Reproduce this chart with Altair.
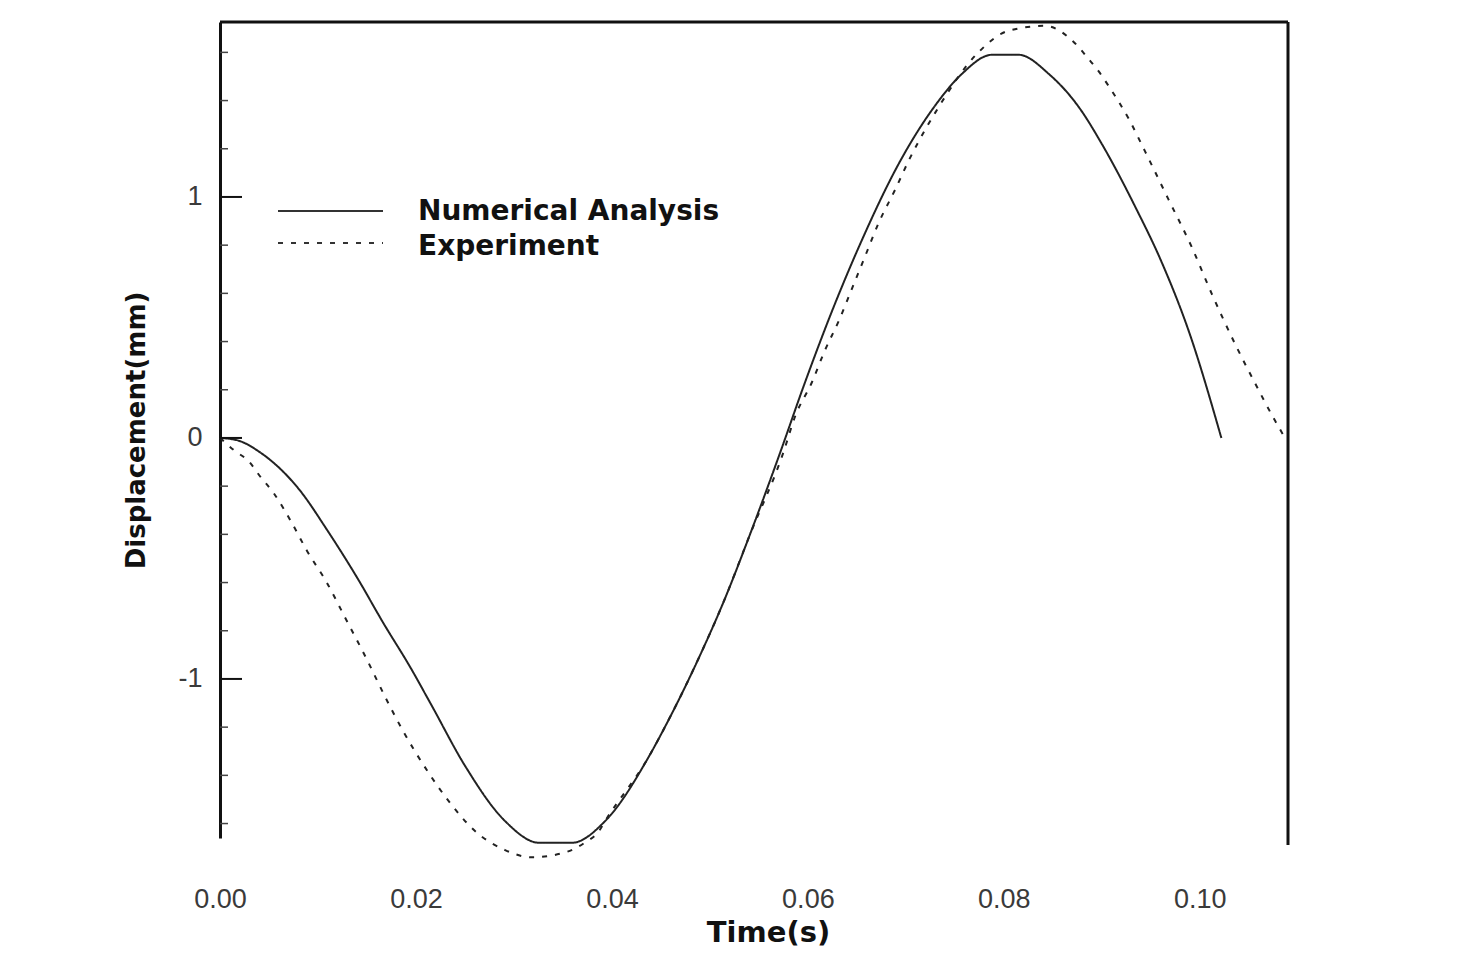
import altair as alt
import pandas as pd

# ---- data ----
num_t = [0.0000, 0.0018, 0.0041, 0.0082, 0.0109, 0.0140, 0.0167, 0.0194, 0.0216, 0.0250,
         0.0291, 0.0326, 0.0359, 0.0393, 0.0438, 0.0454, 0.0489, 0.0515, 0.0540, 0.0570,
         0.0597, 0.0624, 0.0655, 0.0693, 0.0730, 0.0757, 0.0788, 0.0815, 0.0846, 0.0877,
         0.0900, 0.0934, 0.0961, 0.0989, 0.1022]
num_v = [0.00, -0.01, -0.06, -0.22, -0.38, -0.58, -0.77, -0.95, -1.11, -1.36,
         -1.59, -1.68, -1.68, -1.59, -1.32, -1.20, -0.91, -0.67, -0.41, -0.08,
         0.23, 0.52, 0.82, 1.14, 1.38, 1.51, 1.59, 1.59, 1.51, 1.37,
         1.22, 0.96, 0.73, 0.44, 0.00]

exp_t = [0.0000, 0.0014, 0.0030, 0.0041, 0.0055, 0.0073, 0.0089, 0.0109, 0.0127, 0.0150,
         0.0168, 0.0186, 0.0213, 0.0234, 0.0260, 0.0291, 0.0318, 0.0352, 0.0372, 0.0387,
         0.0393, 0.0438, 0.0454, 0.0489, 0.0515, 0.0540, 0.0575, 0.0587, 0.0604, 0.0617,
         0.0632, 0.0645, 0.0658, 0.0672, 0.0689, 0.0704, 0.0713, 0.0730, 0.0774, 0.0805,
         0.0842, 0.0872, 0.0887, 0.0897, 0.0907, 0.0928, 0.0944, 0.0968, 0.0992, 0.1012,
         0.1036, 0.1056, 0.1077, 0.1087]
exp_v = [0.00, -0.05, -0.10, -0.16, -0.23, -0.35, -0.47, -0.60, -0.74, -0.92,
         -1.07, -1.21, -1.39, -1.51, -1.63, -1.71, -1.74, -1.72, -1.68, -1.63,
         -1.59, -1.32, -1.20, -0.91, -0.67, -0.41, -0.06, 0.09, 0.23, 0.36,
         0.49, 0.62, 0.75, 0.89, 1.03, 1.16, 1.23, 1.35, 1.60, 1.69,
         1.71, 1.64, 1.57, 1.52, 1.46, 1.32, 1.19, 0.99, 0.79, 0.60,
         0.39, 0.23, 0.07, 0.00]

series_names = ["Numerical Analysis", "Experiment"]
x_ticks = [0.00, 0.02, 0.04, 0.06, 0.08, 0.10]
y_major = [-1, 0, 1]
y_minor = [-1.6, -1.4, -1.2, -0.8, -0.6, -0.4, -0.2, 0.2, 0.4, 0.6, 0.8, 1.2, 1.4, 1.6]

W, H = 1068, 816
FONT = "Liberation Sans"
BOLD = "DejaVu Sans"

df = pd.concat([
    pd.DataFrame({"t": num_t, "v": num_v, "s": series_names[0]}),
    pd.DataFrame({"t": exp_t, "v": exp_v, "s": series_names[1]}),
])

xs = alt.Scale(domain=[0, 0.109], nice=False, zero=False)
ys = alt.Scale(domain=[-1.66, 1.726], nice=False, zero=False)
dash_scale = alt.Scale(domain=series_names, range=[[1, 0], [5, 8]])

lines = alt.Chart(df).mark_line(color="#222222", strokeWidth=2, clip=False,
                                interpolate="monotone").encode(
    x=alt.X("t:Q", scale=xs,
            axis=alt.Axis(values=x_ticks, format=".2f", domain=False, ticks=False, grid=False,
                          labelFlush=False, labelOverlap=False,
                          labelPadding=48, labelFontSize=27, labelFont=FONT, labelColor="#3a3a3a",
                          title="Time(s)", titleFont=BOLD, titleFontSize=29, titleFontWeight="bold",
                          titleColor="#111111", titlePadding=6, titleX=548)),
    y=alt.Y("v:Q", scale=ys,
            axis=alt.Axis(values=y_major, format="d", domain=True, domainColor="#111111",
                          domainWidth=3, ticks=False, grid=False,
                          labelExpr="replace(datum.label, '\u2212', '-')",
                          labelPadding=18, labelFontSize=27, labelFont=FONT, labelColor="#3a3a3a",
                          title="Displacement(mm)", titleFont=BOLD, titleFontSize=26,
                          titleFontWeight="bold", titleColor="#111111", titlePadding=28)),
    strokeDash=alt.StrokeDash("s:N", scale=dash_scale, legend=None),
    detail="s:N",
)

major = alt.Chart(pd.DataFrame({"v": y_major})).mark_rule(color="#111111", strokeWidth=2).encode(
    y=alt.Y("v:Q", scale=ys), x=alt.value(0), x2=alt.value(22))
minor = alt.Chart(pd.DataFrame({"v": y_minor})).mark_rule(color="#444444", strokeWidth=1.5).encode(
    y=alt.Y("v:Q", scale=ys), x=alt.value(0), x2=alt.value(8))

frame_top = alt.Chart(pd.DataFrame({"a": [0]})).mark_rule(color="#111111", strokeWidth=3).encode(
    x=alt.value(0), x2=alt.value(W), y=alt.value(0))
frame_right = alt.Chart(pd.DataFrame({"a": [0]})).mark_rule(color="#111111", strokeWidth=3).encode(
    x=alt.value(W), y=alt.value(0), y2=alt.value(H + 7))

leg_layers = []
for i, name in enumerate(series_names):
    d = pd.DataFrame({"s": [name]})
    leg_layers.append(alt.Chart(d).mark_rule(color="#333333", strokeWidth=2).encode(
        x=alt.value(58), x2=alt.value(163), y=alt.value(189 + 32 * i),
        strokeDash=alt.StrokeDash("s:N", scale=dash_scale, legend=None)))
    leg_layers.append(alt.Chart(d).mark_text(align="left", baseline="middle", font=BOLD,
                                             fontSize=28, fontWeight="bold", color="#111111").encode(
        x=alt.value(198), y=alt.value(190 + 35 * i), text="s:N"))

chart = alt.layer(lines, major, minor, frame_top, frame_right, *leg_layers).properties(
    width=W, height=H,
    autosize=alt.AutoSizeParams(type="none"),
    padding={"left": 220, "top": 22, "right": 172, "bottom": 120},
    background="white",
).configure_view(stroke=None)

chart.save("out.html", embed_options={"renderer": "svg", "actions": False})
